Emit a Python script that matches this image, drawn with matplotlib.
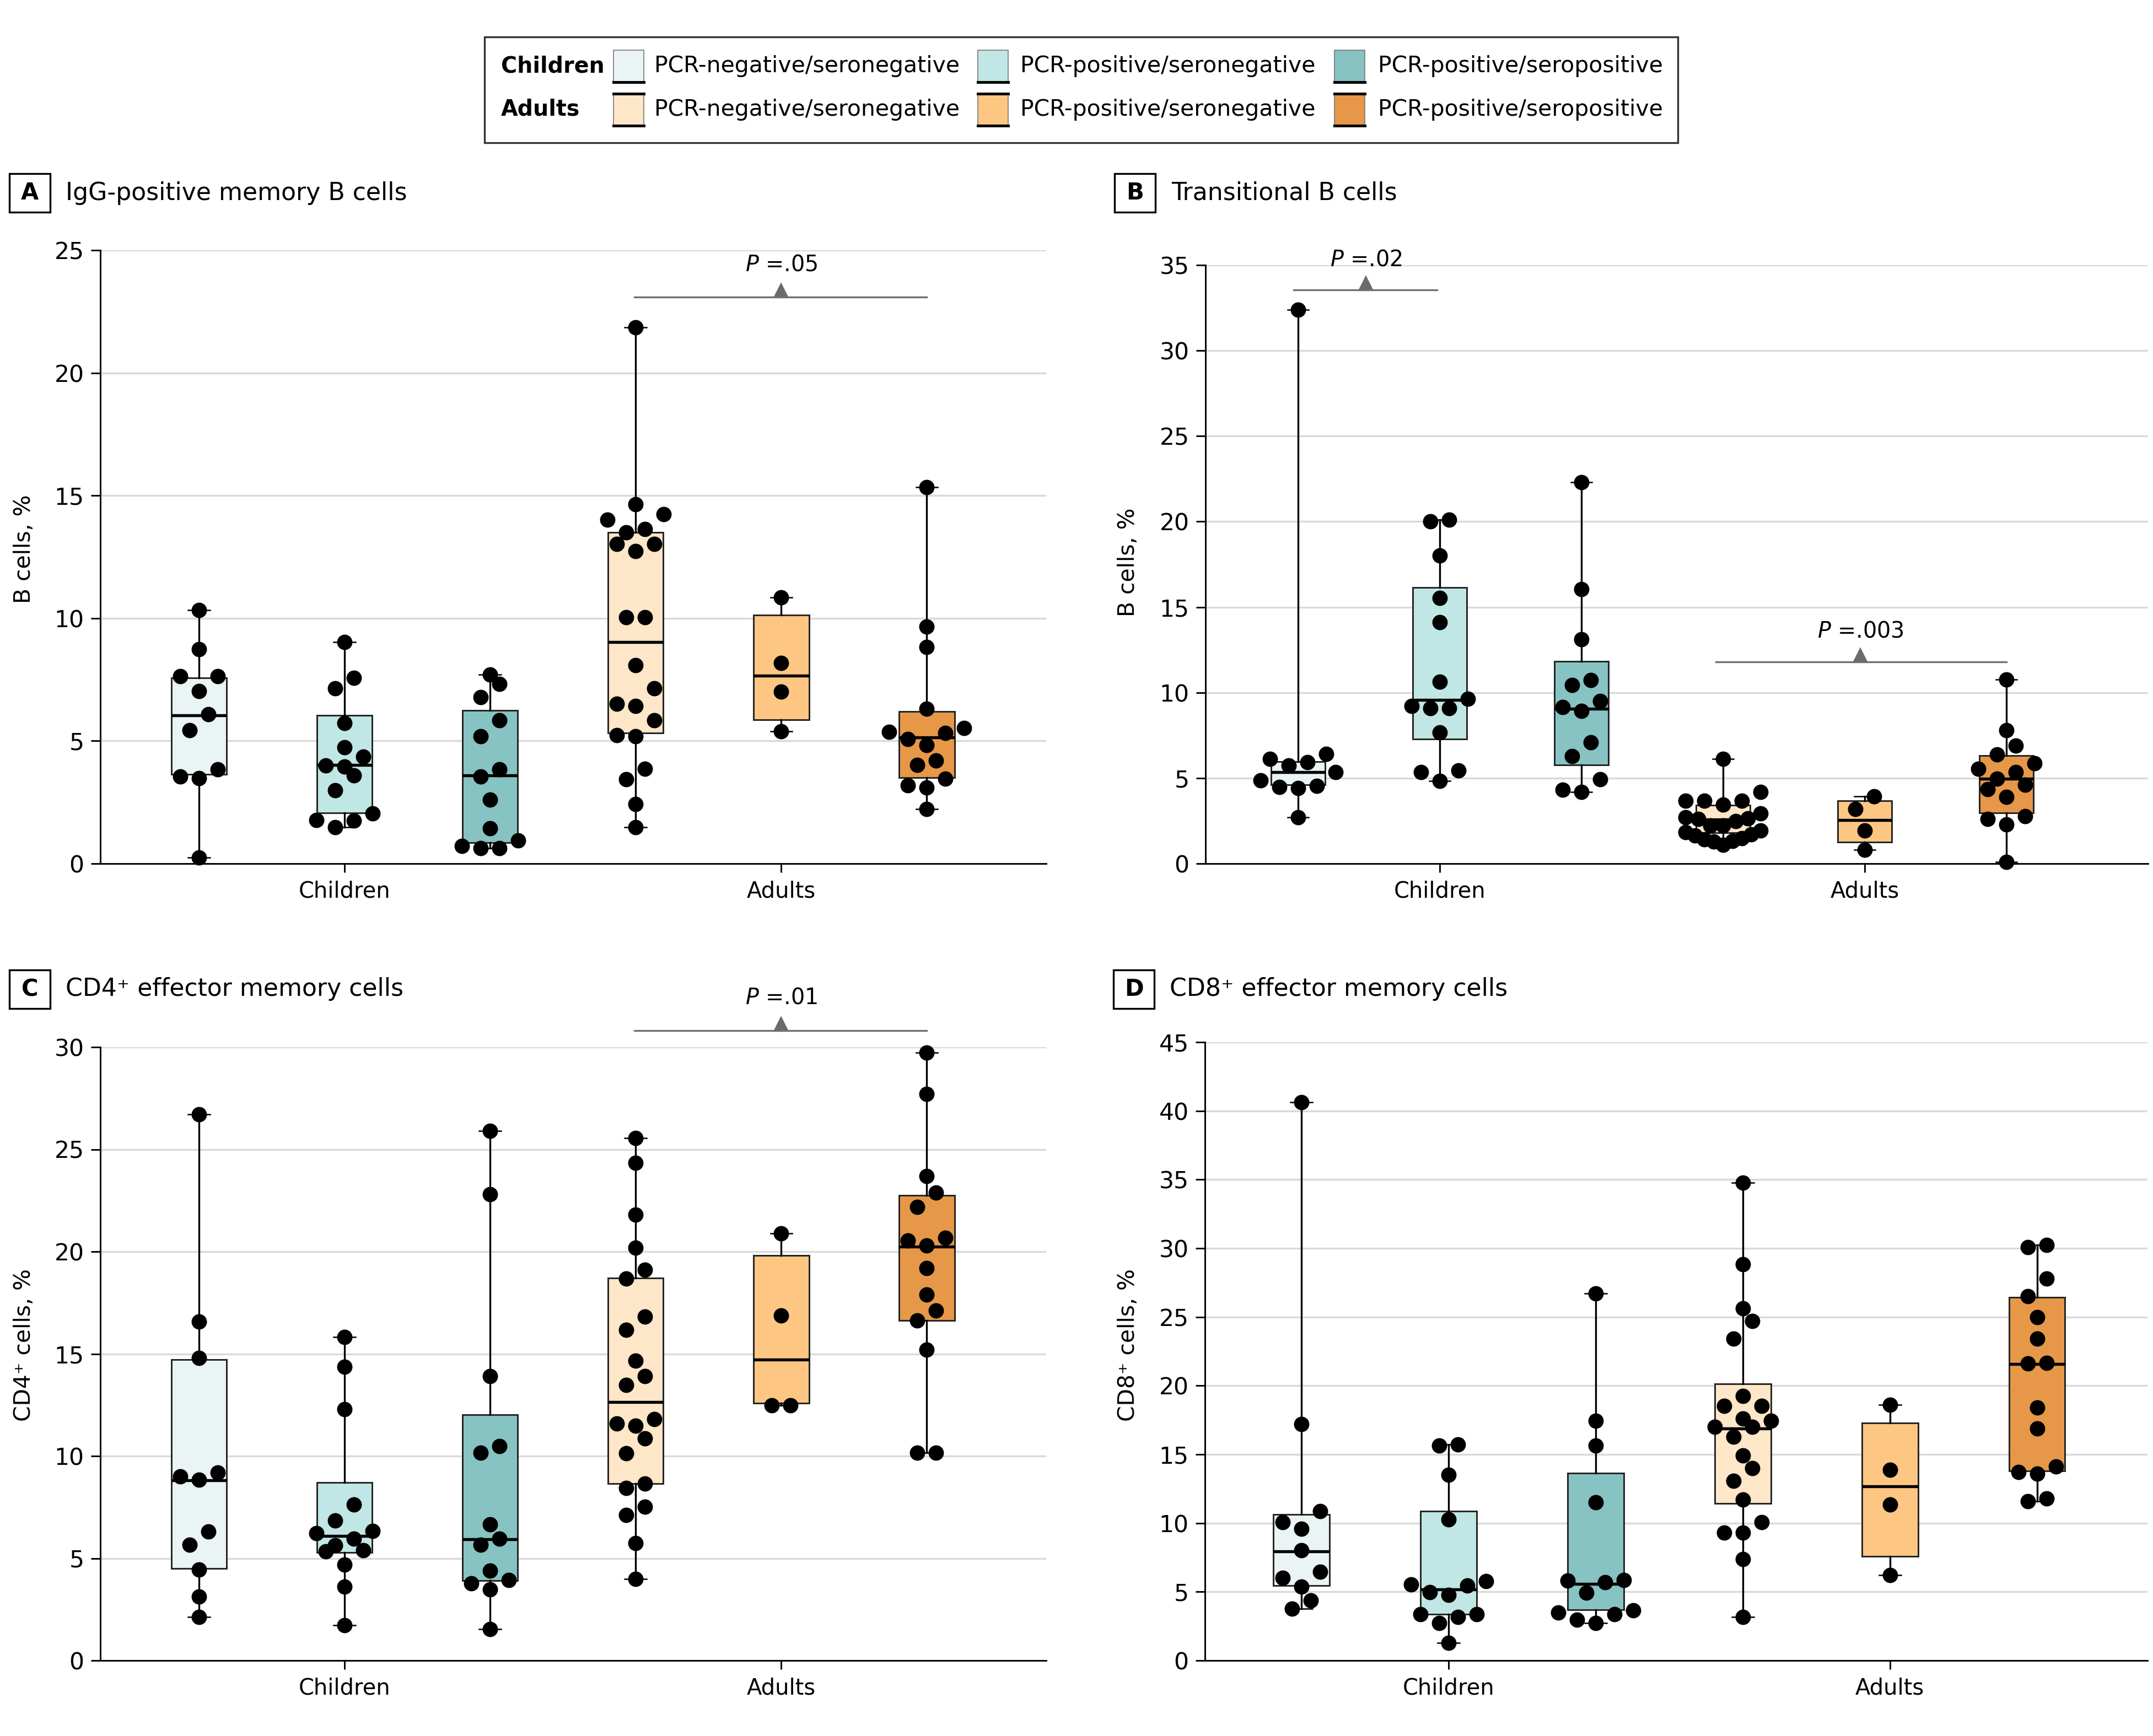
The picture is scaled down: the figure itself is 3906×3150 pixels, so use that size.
import numpy as np
import matplotlib
matplotlib.use('Agg')
import matplotlib.pyplot as plt
import matplotlib.transforms as mtransforms
from matplotlib.patches import Rectangle
from matplotlib.lines import Line2D

plt.rcParams['font.family'] = 'DejaVu Sans'
plt.rcParams['mathtext.fontset'] = 'dejavusans'

W, H, DPI = 3906, 3150, 300

# ---------------- data ----------------
age_groups = ['Children', 'Adults']
status = ['PCR-negative/seronegative', 'PCR-positive/seronegative', 'PCR-positive/seropositive']
colors = ['#eaf4f5', '#c0e6e5', '#86c3c2', '#fee6c8', '#fdc682', '#e69848']

# A  IgG-positive memory B cells
a_vals = [
    [10.34, 8.74, 7.63, 7.63, 7.02, 6.09, 5.44, 3.84, 3.56, 3.48, 0.24],
    [9.02, 7.58, 7.14, 5.72, 4.75, 4.35, 4.00, 3.96, 3.60, 2.99, 2.04, 1.78, 1.76, 1.48],
    [7.71, 7.32, 6.78, 5.83, 5.18, 3.84, 3.56, 2.61, 1.44, 0.95, 0.73, 0.63, 0.63],
    [21.86, 14.64, 14.24, 14.02, 13.63, 13.51, 13.03, 13.03, 12.74, 10.05, 10.05, 8.09, 7.14,
     6.51, 6.43, 5.83, 5.24, 5.18, 3.86, 3.44, 2.43, 1.48],
    [10.86, 8.17, 7.00, 5.40],
    [15.35, 9.65, 8.82, 6.31, 5.52, 5.36, 5.32, 5.08, 4.83, 4.21, 4.02, 3.46, 3.18, 3.09, 2.22],
]
a_q1 = [3.64, 2.06, 0.85, 5.32, 5.87, 3.50]
a_med = [6.05, 4.02, 3.60, 9.04, 7.67, 5.14]
a_q3 = [7.58, 6.05, 6.25, 13.51, 10.13, 6.21]

# B  Transitional B cells
b_vals = [
    [32.39, 6.41, 6.13, 5.93, 5.73, 5.34, 4.88, 4.54, 4.48, 4.43, 2.70],
    [20.10, 20.01, 18.00, 15.53, 14.11, 10.62, 9.65, 9.22, 9.08, 9.08, 7.66, 5.45, 5.34, 4.83],
    [22.31, 16.04, 13.11, 10.73, 10.45, 9.51, 9.14, 8.94, 7.10, 6.27, 4.94, 4.31, 4.20],
    [6.13, 4.20, 3.69, 3.66, 3.66, 3.46, 2.92, 2.70, 2.64, 2.61, 2.47, 2.21, 2.21, 1.93, 1.85,
     1.70, 1.65, 1.48, 1.42, 1.31, 1.28, 1.08],
    [3.92, 3.18, 1.93, 0.82],
    [10.76, 7.81, 6.90, 6.39, 5.85, 5.54, 5.34, 4.97, 4.60, 4.34, 3.89, 2.78, 2.61, 2.30, 0.11],
]
b_q1 = [4.60, 7.29, 5.76, 1.79, 1.25, 2.95]
b_med = [5.34, 9.57, 9.05, 2.58, 2.55, 4.97]
b_q3 = [5.96, 16.15, 11.84, 3.41, 3.66, 6.33]

# C  CD4+ effector memory cells
c_vals = [
    [26.70, 16.59, 14.79, 9.19, 9.00, 8.83, 6.31, 5.67, 4.44, 3.13, 2.14],
    [15.81, 14.38, 12.30, 7.62, 6.84, 6.34, 6.22, 5.96, 5.63, 5.39, 5.34, 4.70, 3.61, 1.73],
    [25.90, 22.81, 13.91, 10.49, 10.16, 6.65, 5.96, 5.67, 4.39, 3.94, 3.77, 3.49, 1.54],
    [25.54, 24.33, 21.81, 20.18, 19.11, 18.68, 16.81, 16.16, 14.67, 13.91, 13.48, 11.80, 11.58,
     11.49, 10.87, 10.14, 8.64, 8.43, 7.52, 7.12, 5.74, 3.99],
    [20.89, 16.88, 12.49, 12.49],
    [29.74, 27.72, 23.69, 22.88, 22.17, 20.67, 20.53, 20.29, 19.18, 17.90, 17.11, 16.62, 15.19,
     10.16, 10.16],
]
c_q1 = [4.51, 5.27, 3.92, 8.66, 12.60, 16.64]
c_med = [8.81, 6.08, 5.93, 12.65, 14.72, 20.25]
c_q3 = [14.72, 8.71, 12.03, 18.70, 19.82, 22.76]

# D  CD8+ effector memory cells
d_vals = [
    [40.63, 17.19, 10.87, 10.06, 9.60, 8.01, 6.46, 6.00, 5.37, 4.38, 3.78],
    [15.71, 15.64, 13.52, 10.27, 5.79, 5.54, 5.44, 4.98, 4.77, 3.35, 3.35, 3.18, 2.72, 1.27],
    [26.72, 17.44, 15.64, 11.51, 5.86, 5.82, 5.68, 4.94, 3.64, 3.49, 3.35, 2.97, 2.72],
    [34.77, 28.84, 25.63, 24.71, 23.44, 19.24, 18.53, 18.53, 17.61, 17.44, 17.01, 17.01, 16.27,
     14.90, 13.98, 13.06, 11.72, 10.06, 9.32, 9.32, 7.38, 3.18],
    [18.60, 13.87, 11.37, 6.21],
    [30.25, 30.07, 27.81, 26.51, 24.99, 23.44, 21.64, 21.60, 18.39, 16.87, 14.12, 13.73, 13.59,
     11.79, 11.58],
]
d_q1 = [5.44, 3.35, 3.67, 11.44, 7.59, 13.80]
d_med = [7.94, 5.19, 5.58, 16.87, 12.67, 21.57]
d_q3 = [10.62, 10.87, 13.62, 20.12, 17.30, 26.44]

# ---------------- helpers ----------------
fig = plt.figure(figsize=(W / DPI, H / DPI), dpi=DPI)


def add_axes(l, t, r, b):
    return fig.add_axes([l / W, 1 - b / H, (r - l) / W, (b - t) / H])


def swarm(vals, step, row_h):
    # rows of nearly equal values, spread side by side around the centre
    v = np.sort(np.asarray(vals, float))
    xs, ys = [], []
    i = 0
    while i < len(v):
        j = i
        while j + 1 < len(v) and v[j + 1] - v[i] < row_h:
            j += 1
        row = v[i:j + 1]
        n = len(row)
        sp = step if n < 3 else min(step, 4 * step / (n - 1))
        slots = (np.arange(n) - (n - 1) / 2) * sp
        order = np.lexsort((slots, np.round(np.abs(slots), 6)))
        xs.extend(slots[order])
        ys.extend(row)
        i = j + 1
    return np.array(xs), np.array(ys)


def panel(rect, xlim, ylim, vals, q1, med, q3):
    ax = add_axes(*rect)
    stats = [dict(med=m, q1=a, q3=b, whislo=min(v), whishi=max(v), fliers=[])
             for v, a, m, b in zip(vals, q1, med, q3)]
    bp = ax.bxp(stats, positions=range(6), widths=0.38, patch_artist=True,
                showfliers=False, manage_ticks=False, capwidths=0.15,
                boxprops=dict(lw=0.7, edgecolor='#222222'),
                medianprops=dict(color='black', lw=1.3),
                whiskerprops=dict(color='black', lw=0.8),
                capprops=dict(color='black', lw=0.6))
    for patch, c in zip(bp['boxes'], colors):
        patch.set_facecolor(c)
    ax.set_xlim(*xlim)
    ax.set_ylim(*ylim)
    ppx = (rect[2] - rect[0]) / (xlim[1] - xlim[0])
    ppy = (rect[3] - rect[1]) / (ylim[1] - ylim[0])
    for i, v in enumerate(vals):
        dx, yy = swarm(v, 34 / ppx, 33 / ppy)
        ax.scatter(i + dx, yy, s=6.7 ** 2, color='black', linewidths=0, zorder=5, clip_on=False)
    ax.set_yticks(np.arange(ylim[0], ylim[1] + 1, 5))
    ax.yaxis.grid(True, color='#d9d9d9', lw=0.8)
    ax.set_axisbelow(True)
    ax.set_xticks([1, 4], age_groups)
    for s in ['top', 'right']:
        ax.spines[s].set_visible(False)
    for s in ['left', 'bottom']:
        ax.spines[s].set_linewidth(0.7)
    ax.tick_params(axis='y', length=4, width=0.7, pad=3, labelsize=10.2)
    ax.tick_params(axis='x', length=3.8, width=0.7, pad=3.5, labelsize=9.6)
    return ax


def bracket(ax, x0, x1, xm, y, ytext, label):
    ax.plot([x0, x1], [y, y], color='#707070', lw=0.8, clip_on=False, zorder=4)
    tr = mtransforms.offset_copy(ax.transData, fig=fig, y=2.6, units='points')
    ax.plot([xm], [y], marker='^', ms=5.2, color='#6b6b6b', transform=tr, clip_on=False)
    ax.text(xm, ytext, r'$\mathit{P}$ =' + label, ha='center', va='center',
            fontsize=9.5, clip_on=False)


def title(lx, ty, tx, letter, text):
    fig.patches.append(Rectangle((lx / W, 1 - (ty + 35) / H), 74 / W, 70 / H,
                                 transform=fig.transFigure, fc='white', ec='black', lw=0.8))
    fig.text((lx + 37) / W, 1 - ty / H, letter, ha='center', va='center',
             fontsize=10, fontweight='bold')
    fig.text(tx / W, 1 - ty / H, text, ha='left', va='center', fontsize=10.6)


# ---------------- panels ----------------
axA = panel((182, 454, 1898, 1567), (-0.678, 5.82), (0, 25), a_vals, a_q1, a_med, a_q3)
bracket(axA, 2.99, 5.0, 4.0, 23.1, 24.4, '.05')

axB = panel((2187, 481, 3897, 1567), (-0.654, 6.0), (0, 35), b_vals, b_q1, b_med, b_q3)
bracket(axB, -0.03, 0.98, 0.48, 33.55, 35.3, '.02')
bracket(axB, 2.95, 5.0, 3.97, 11.81, 13.6, '.003')

axC = panel((182, 1900, 1898, 3013), (-0.678, 5.82), (0, 30), c_vals, c_q1, c_med, c_q3)
bracket(axC, 2.99, 5.0, 4.0, 30.81, 32.4, '.01')

axD = panel((2186, 1891, 3896, 3013), (-0.655, 5.75), (0, 45), d_vals, d_q1, d_med, d_q3)

title(17, 350, 119, 'A', 'IgG-positive memory B cells')
title(2022, 350, 2125, 'B', 'Transitional B cells')
title(17, 1795, 119, 'C', 'CD4\u207a effector memory cells')
title(2020, 1795, 2122, 'D', 'CD8\u207a effector memory cells')

for x, y, lab in [(44, 996, 'B cells, %'), (2047, 1020, 'B cells, %'),
                  (44, 2441, 'CD4\u207a cells, %'), (2047, 2441, 'CD8\u207a cells, %')]:
    fig.text(x / W, 1 - y / H, lab, rotation=90, ha='center', va='center', fontsize=9.8)

# ---------------- legend ----------------
fig.patches.append(Rectangle((879 / W, 1 - 259 / H), (3044 - 879) / W, (259 - 67) / H,
                             transform=fig.transFigure, fc='white', ec='#333333', lw=0.8))
swatch_x = [1113, 1774, 2421]
label_x = [1187, 1851, 2500]
for r, (grp, yc) in enumerate(zip(age_groups, [120, 199])):
    fig.text(909 / W, 1 - yc / H, grp, ha='left', va='center', fontsize=9.5, fontweight='bold')
    for k in range(3):
        x0 = swatch_x[k]
        fig.patches.append(Rectangle((x0 / W, 1 - (yc + 29) / H), 55 / W, 58 / H,
                                     transform=fig.transFigure, fc=colors[3 * r + k],
                                     ec='#777777', lw=0.4))
        edges = [yc + 29] if r == 0 else [yc - 29, yc + 29]
        for ye in edges:
            fig.lines.append(Line2D([x0 / W, (x0 + 55) / W], [1 - ye / H] * 2,
                                    transform=fig.transFigure, color='black', lw=1.2))
        fig.text(label_x[k] / W, 1 - yc / H, status[k], ha='left', va='center', fontsize=9.8)

fig.savefig('out.png', dpi=DPI)
